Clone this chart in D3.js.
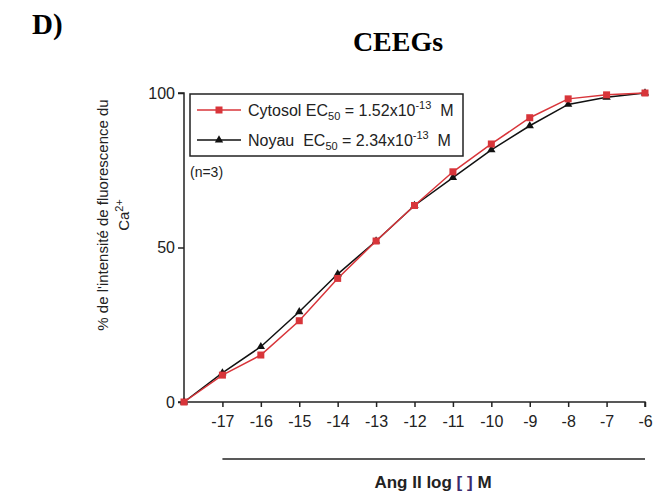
<!DOCTYPE html>
<html>
<head>
<meta charset="utf-8">
<script src="https://cdn.jsdelivr.net/npm/d3@7"></script>
<style>
  body { margin: 0; background: #fff; }
  text { font-family: Arial, "Liberation Sans", sans-serif; }
</style>
</head>
<body>
<div id="chart"></div>
<script>
// log concentrations (first point is the no-agonist origin)
var logConc = [-18, -17, -16, -15, -14, -13, -12, -11, -10, -9, -8, -7, -6];
var tickLabels = [-17, -16, -15, -14, -13, -12, -11, -10, -9, -8, -7, -6];
var cytosol = [0, 8.7, 15.2, 26.3, 40.0, 52.1, 63.6, 74.5, 83.5, 92.0, 98.1, 99.4, 100];
var noyau   = [0, 9.4, 17.9, 29.2, 41.4, 52.1, 63.6, 72.6, 81.6, 89.4, 96.3, 98.6, 100];
var yTicks = [0, 50, 100];

var red = "#d8353a";

var svg = d3.select("#chart").append("svg")
    .attr("width", 667)
    .attr("height", 497);

var x = d3.scaleLinear().domain([-18, -6]).range([184, 645]);
var y = d3.scaleLinear().domain([0, 100]).range([402, 93]);

// panel letter and title
svg.append("text")
    .attr("x", 32).attr("y", 34)
    .style("font-family", "'Liberation Serif', 'Times New Roman', serif")
    .style("font-weight", "bold")
    .style("font-size", "29px")
    .text("D)");

svg.append("text")
    .attr("x", 398).attr("y", 51)
    .attr("text-anchor", "middle")
    .style("font-family", "'Liberation Serif', 'Times New Roman', serif")
    .style("font-weight", "bold")
    .style("font-size", "28px")
    .text("CEEGs");

// y axis
var yAxis = d3.axisLeft(y).tickValues(yTicks).tickSize(6).tickPadding(3);
var gy = svg.append("g").attr("transform", "translate(" + 184 + ",0)").call(yAxis);
gy.select(".domain").attr("d", "M-6," + y(100) + "H0V" + y(0) + "H-6");

// x axis
var xAxis = d3.axisBottom(x).tickValues(tickLabels).tickSize(5).tickPadding(9)
    .tickFormat(function(d) { return "-" + Math.abs(d); });
var gx = svg.append("g").attr("transform", "translate(0," + 402 + ")").call(xAxis);
gx.select(".domain").attr("d", "M" + x(-18) + ",0H" + x(-6) + "V5");

[gx, gy].forEach(function(g) {
    g.selectAll(".domain").attr("stroke", "#222").attr("stroke-width", 1.5).attr("fill", "none");
    g.selectAll(".tick line").attr("stroke", "#222").attr("stroke-width", 1.5);
    g.selectAll(".tick text")
        .style("font-size", "16px")
        .style("font-family", "Arial, 'Liberation Sans', sans-serif")
        .attr("fill", "#222");
});

// bar under x axis labels
svg.append("line")
    .attr("x1", x(-17)).attr("x2", x(-6))
    .attr("y1", 459).attr("y2", 459)
    .attr("stroke", "#222").attr("stroke-width", 1.5);

var xt = svg.append("text")
    .attr("x", 433).attr("y", 488)
    .attr("text-anchor", "middle")
    .style("font-size", "17px")
    .style("font-weight", "bold")
    .attr("fill", "#222");
xt.append("tspan").text("Ang II log ");
xt.append("tspan").attr("fill", "#3b2a6e").text("[ ]");
xt.append("tspan").text(" M");

// y axis title
var yt = svg.append("text")
    .attr("transform", "translate(108,215) rotate(-90)")
    .attr("text-anchor", "middle")
    .style("font-size", "15px")
    .attr("fill", "#222");
yt.append("tspan").attr("x", 0).attr("y", 0).text("% de l'intensité de fluorescence du");
yt.append("tspan").attr("x", 0).attr("y", 21).text("Ca");
yt.append("tspan").attr("dy", -6).style("font-size", "11px").text("2+");

// lines
var line = d3.line()
    .x(function(d, i) { return x(logConc[i]); })
    .y(function(d) { return y(d); });

svg.append("path").datum(noyau)
    .attr("fill", "none").attr("stroke", "#111").attr("stroke-width", 1.5)
    .attr("d", line);

svg.append("path").datum(cytosol)
    .attr("fill", "none").attr("stroke", red).attr("stroke-width", 1.5)
    .attr("d", line);

var tri = d3.symbol().type(d3.symbolTriangle).size(30);
svg.selectAll(".tri").data(noyau).enter().append("path")
    .attr("class", "tri")
    .attr("d", tri)
    .attr("fill", "#111")
    .attr("transform", function(d, i) { return "translate(" + x(logConc[i]) + "," + y(d) + ")"; });

svg.selectAll(".sq").data(cytosol).enter().append("rect")
    .attr("class", "sq")
    .attr("x", function(d, i) { return x(logConc[i]) - 3.5; })
    .attr("y", function(d) { return y(d) - 3.5; })
    .attr("width", 7).attr("height", 7)
    .attr("fill", red);

// legend
var lg = svg.append("g");
lg.append("rect")
    .attr("x", 190).attr("y", 94).attr("width", 273).attr("height", 62)
    .attr("fill", "#fff").attr("stroke", "#222").attr("stroke-width", 1.5);

var legendRows = [
    { name: "Cytosol", gap: " ", exp: "1.52", color: red, y: 110, mark: "sq" },
    { name: "Noyau", gap: "  ", exp: "2.34", color: "#111", y: 140, mark: "tri" }
];
legendRows.forEach(function(r) {
    lg.append("line")
        .attr("x1", 197).attr("x2", 241).attr("y1", r.y).attr("y2", r.y)
        .attr("stroke", r.color).attr("stroke-width", 1.5);
    if (r.mark === "sq") {
        lg.append("rect").attr("x", 215.5).attr("y", r.y - 3.5).attr("width", 7).attr("height", 7).attr("fill", r.color);
    } else {
        lg.append("path").attr("d", tri).attr("fill", r.color)
            .attr("transform", "translate(219," + r.y + ")");
    }
    var t = lg.append("text")
        .attr("x", 248).attr("y", r.y + 6)
        .style("font-size", "16px")
        .style("white-space", "pre")
        .attr("fill", "#222");
    t.append("tspan").text(r.name + r.gap + "EC");
    t.append("tspan").attr("dy", 4).style("font-size", "11px").text("50");
    t.append("tspan").attr("dy", -4).text(" = " + r.exp + "x10");
    t.append("tspan").attr("dy", -7).style("font-size", "11px").text("-13");
    t.append("tspan").attr("dy", 7).text("  M");
});

svg.append("text")
    .attr("x", 190).attr("y", 177)
    .style("font-size", "14px")
    .attr("fill", "#222")
    .text("(n=3)");
</script>
</body>
</html>
